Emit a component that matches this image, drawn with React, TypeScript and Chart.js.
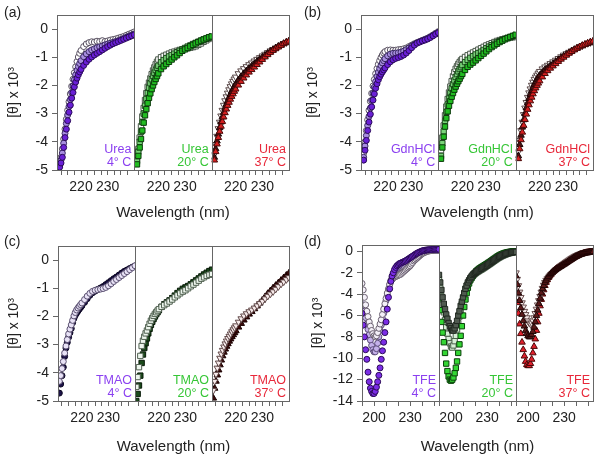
import React, { useEffect, useRef } from 'react';
import { Chart, registerables } from 'chart.js';

Chart.register(...registerables);

const FONT = "'Liberation Sans', Arial, sans-serif";

// ---------- wavelengths (nm) ----------
const wlAB = [212, 212.5, 213, 213.5, 214, 214.5, 215, 215.5, 216, 216.5, 217, 217.5, 218, 218.5, 219, 219.5, 220,
  221, 222, 223, 224, 225, 226, 227, 228, 229, 230, 231, 232, 233, 234, 235, 236, 237, 238, 239, 240];
const wlC = [211.5, 212, 212.5, 213, 213.5, 214, 214.5, 215, 215.5, 216, 216.5, 217, 217.5, 218, 218.5, 219, 219.5, 220,
  221, 222, 223, 224, 225, 226, 227, 228, 229, 230, 231, 232, 233, 234, 235, 236, 237, 238, 239, 240];
const wlD = [190, 191, 192, 193, 194, 195, 196, 197, 198, 199, 200, 201, 202, 203, 204, 205, 206, 207, 208, 209,
  210, 211, 212, 213, 214, 215, 216, 217, 218, 219, 220, 221, 222, 223, 224, 225, 226, 227, 228, 229,
  230, 231, 232, 233, 234, 235, 236, 237, 238, 239, 240, 241, 242, 243, 244, 245, 246, 247, 248, 249,
  250, 251, 252, 253, 254];

// ---------- (a) Urea ----------
const a4s = [-4.9, -4.75, -4.55, -4.2, -3.85, -3.55, -3.25, -2.95, -2.7, -2.45, -2.25, -2.05, -1.88, -1.74, -1.62, -1.52, -1.43,
  -1.29, -1.17, -1.07, -0.99, -0.92, -0.86, -0.8, -0.74, -0.68, -0.62, -0.57, -0.52, -0.48, -0.44, -0.4, -0.36, -0.32, -0.28, -0.24, -0.2];
const a4m = [-4.85, -4.65, -4.4, -4.05, -3.7, -3.35, -3.05, -2.75, -2.5, -2.25, -2.02, -1.8, -1.62, -1.46, -1.33, -1.22, -1.12,
  -0.98, -0.88, -0.8, -0.74, -0.7, -0.66, -0.63, -0.6, -0.56, -0.53, -0.5, -0.47, -0.44, -0.41, -0.37, -0.33, -0.29, -0.25, -0.21, -0.17];
const a4w = [-4.8, -4.55, -4.25, -3.9, -3.55, -3.2, -2.88, -2.58, -2.3, -2.03, -1.78, -1.55, -1.34, -1.15, -0.99, -0.86, -0.76,
  -0.62, -0.53, -0.48, -0.45, -0.46, -0.43, -0.44, -0.41, -0.44, -0.42, -0.39, -0.37, -0.35, -0.32, -0.29, -0.26, -0.22, -0.18, -0.14, -0.1];
const a20s = [-4.8, -4.5, -4.2, -3.9, -3.6, -3.32, -3.06, -2.84, -2.63, -2.44, -2.28, -2.13, -2.0, -1.88, -1.77, -1.67, -1.57,
  -1.42, -1.32, -1.24, -1.16, -1.08, -1.0, -0.93, -0.85, -0.77, -0.72, -0.67, -0.61, -0.56, -0.51, -0.46, -0.41, -0.37, -0.33, -0.29, -0.26];
const a20m = [-4.7, -4.35, -4.0, -3.65, -3.3, -3.0, -2.72, -2.48, -2.27, -2.08, -1.92, -1.78, -1.66, -1.55, -1.45, -1.37, -1.3,
  -1.18, -1.1, -1.03, -0.97, -0.92, -0.87, -0.82, -0.77, -0.72, -0.67, -0.62, -0.58, -0.53, -0.49, -0.45, -0.41, -0.37, -0.34, -0.3, -0.27];
const a20w = [-4.65, -4.25, -3.85, -3.45, -3.1, -2.8, -2.52, -2.27, -2.05, -1.9, -1.75, -1.6, -1.47, -1.36, -1.25, -1.16, -1.08,
  -1.0, -0.95, -0.91, -0.87, -0.83, -0.8, -0.77, -0.74, -0.72, -0.7, -0.68, -0.66, -0.64, -0.61, -0.56, -0.51, -0.45, -0.4, -0.35, -0.31];
const a37s = [-4.65, -4.35, -4.08, -3.85, -3.63, -3.45, -3.28, -3.12, -2.97, -2.84, -2.71, -2.6, -2.49, -2.39, -2.3, -2.21, -2.13,
  -1.99, -1.86, -1.74, -1.63, -1.53, -1.44, -1.35, -1.26, -1.17, -1.08, -0.99, -0.91, -0.83, -0.76, -0.7, -0.64, -0.58, -0.52, -0.47, -0.43];
const a37d = [-4.55, -4.25, -3.97, -3.73, -3.5, -3.3, -3.12, -2.96, -2.81, -2.67, -2.55, -2.43, -2.32, -2.22, -2.13, -2.04, -1.96,
  -1.81, -1.69, -1.58, -1.48, -1.39, -1.31, -1.23, -1.15, -1.07, -1.0, -0.93, -0.86, -0.79, -0.73, -0.67, -0.61, -0.56, -0.51, -0.46, -0.42];
const a37w = [-4.45, -4.1, -3.8, -3.53, -3.3, -3.08, -2.88, -2.7, -2.54, -2.4, -2.27, -2.15, -2.04, -1.94, -1.85, -1.77, -1.7,
  -1.58, -1.48, -1.4, -1.33, -1.26, -1.2, -1.13, -1.07, -1.01, -0.95, -0.89, -0.83, -0.77, -0.72, -0.67, -0.62, -0.57, -0.52, -0.48, -0.44];

// ---------- (b) GdnHCl ----------
const b4s = [-4.65, -4.3, -3.95, -3.6, -3.3, -3.02, -2.76, -2.52, -2.3, -2.1, -1.94, -1.8, -1.69, -1.6, -1.52, -1.45, -1.38,
  -1.26, -1.16, -1.09, -1.04, -1.01, -0.97, -0.92, -0.85, -0.76, -0.66, -0.57, -0.5, -0.46, -0.42, -0.39, -0.35, -0.3, -0.24, -0.18, -0.13];
const b4m = [-4.55, -4.15, -3.78, -3.42, -3.1, -2.8, -2.53, -2.28, -2.06, -1.86, -1.68, -1.53, -1.4, -1.29, -1.2, -1.12, -1.05,
  -0.95, -0.89, -0.86, -0.85, -0.84, -0.82, -0.78, -0.73, -0.67, -0.6, -0.54, -0.49, -0.45, -0.41, -0.37, -0.33, -0.28, -0.22, -0.16, -0.11];
const b4w = [-4.4, -4.0, -3.6, -3.22, -2.88, -2.56, -2.28, -2.02, -1.79, -1.58, -1.4, -1.25, -1.12, -1.01, -0.92, -0.85, -0.8,
  -0.75, -0.74, -0.75, -0.75, -0.73, -0.72, -0.7, -0.67, -0.62, -0.57, -0.52, -0.48, -0.44, -0.4, -0.36, -0.32, -0.27, -0.21, -0.15, -0.09];
const b20s = [-4.6, -4.2, -3.82, -3.46, -3.16, -2.92, -2.72, -2.55, -2.4, -2.27, -2.15, -2.04, -1.94, -1.85, -1.76, -1.67, -1.59,
  -1.45, -1.34, -1.26, -1.19, -1.11, -1.03, -0.95, -0.87, -0.79, -0.71, -0.64, -0.58, -0.52, -0.46, -0.41, -0.36, -0.32, -0.28, -0.24, -0.2];
const b20m = [-4.5, -4.05, -3.63, -3.26, -2.94, -2.68, -2.46, -2.27, -2.1, -1.95, -1.82, -1.7, -1.6, -1.5, -1.42, -1.35, -1.28,
  -1.17, -1.09, -1.02, -0.96, -0.9, -0.85, -0.8, -0.74, -0.68, -0.62, -0.57, -0.52, -0.47, -0.43, -0.39, -0.35, -0.31, -0.28, -0.25, -0.22];
const b20w = [-4.3, -3.85, -3.42, -3.06, -2.75, -2.48, -2.25, -2.04, -1.85, -1.68, -1.53, -1.41, -1.32, -1.24, -1.17, -1.11, -1.06,
  -0.99, -0.93, -0.88, -0.83, -0.78, -0.73, -0.68, -0.63, -0.58, -0.54, -0.5, -0.46, -0.42, -0.39, -0.36, -0.34, -0.32, -0.3, -0.29, -0.28];
const b37s = [-4.6, -4.25, -3.93, -3.66, -3.42, -3.21, -3.02, -2.85, -2.69, -2.55, -2.42, -2.3, -2.19, -2.09, -2.0, -1.92, -1.84,
  -1.7, -1.58, -1.48, -1.39, -1.31, -1.23, -1.15, -1.07, -1.0, -0.93, -0.86, -0.8, -0.74, -0.68, -0.63, -0.58, -0.54, -0.5, -0.46, -0.43];
const b37d = [-4.5, -4.1, -3.77, -3.48, -3.22, -3.0, -2.8, -2.62, -2.46, -2.32, -2.19, -2.07, -1.96, -1.87, -1.78, -1.71, -1.64,
  -1.53, -1.44, -1.37, -1.3, -1.23, -1.16, -1.09, -1.02, -0.96, -0.9, -0.84, -0.78, -0.73, -0.68, -0.63, -0.59, -0.55, -0.51, -0.47, -0.44];
const b37w = [-4.35, -3.95, -3.6, -3.3, -3.03, -2.8, -2.6, -2.42, -2.26, -2.12, -1.99, -1.88, -1.78, -1.7, -1.63, -1.56, -1.5,
  -1.41, -1.34, -1.28, -1.22, -1.16, -1.1, -1.04, -0.98, -0.92, -0.87, -0.82, -0.77, -0.72, -0.67, -0.63, -0.59, -0.55, -0.51, -0.48, -0.45];

// ---------- (c) TMAO ----------
const c4d = [-4.72, -4.4, -4.1, -3.8, -3.42, -3.12, -2.92, -2.74, -2.58, -2.43, -2.22, -2.07, -1.96, -1.88, -1.81, -1.74, -1.68, -1.62,
  -1.5, -1.37, -1.25, -1.16, -1.1, -1.04, -0.99, -0.94, -0.87, -0.8, -0.73, -0.66, -0.6, -0.53, -0.46, -0.4, -0.35, -0.3, -0.25, -0.21];
const c4w = [-4.3, -4.1, -3.85, -3.6, -3.3, -3.05, -2.82, -2.62, -2.45, -2.3, -2.14, -1.98, -1.86, -1.77, -1.7, -1.64, -1.58, -1.52,
  -1.4, -1.28, -1.18, -1.11, -1.07, -1.05, -1.03, -1.01, -0.97, -0.91, -0.84, -0.76, -0.69, -0.62, -0.55, -0.48, -0.41, -0.34, -0.27, -0.2];
const c20d = [-5.0, -4.75, -4.45, -4.1, -3.65, -3.35, -3.12, -2.95, -2.78, -2.6, -2.44, -2.3, -2.19, -2.09, -2.0, -1.92, -1.85, -1.78,
  -1.66, -1.57, -1.5, -1.43, -1.35, -1.26, -1.17, -1.09, -1.02, -0.97, -0.92, -0.86, -0.79, -0.72, -0.65, -0.58, -0.51, -0.45, -0.39, -0.34];
const c20w = [-4.5, -4.15, -3.8, -3.4, -3.05, -2.86, -2.72, -2.6, -2.5, -2.38, -2.26, -2.15, -2.06, -1.98, -1.91, -1.85, -1.79, -1.74,
  -1.66, -1.6, -1.54, -1.47, -1.4, -1.32, -1.25, -1.18, -1.12, -1.07, -1.0, -0.93, -0.87, -0.8, -0.73, -0.66, -0.61, -0.56, -0.52, -0.49];
const c37d = [-4.9, -4.55, -4.3, -4.08, -3.9, -3.72, -3.55, -3.4, -3.27, -3.16, -3.06, -2.97, -2.88, -2.8, -2.72, -2.65, -2.58, -2.51,
  -2.38, -2.25, -2.13, -2.02, -1.92, -1.83, -1.73, -1.63, -1.53, -1.42, -1.3, -1.19, -1.09, -0.99, -0.9, -0.81, -0.72, -0.63, -0.54, -0.46];
const c37w = [-4.62, -4.3, -4.05, -3.83, -3.65, -3.48, -3.33, -3.2, -3.08, -2.97, -2.87, -2.78, -2.7, -2.62, -2.54, -2.47, -2.4, -2.33,
  -2.2, -2.08, -1.98, -1.9, -1.83, -1.77, -1.7, -1.62, -1.54, -1.46, -1.37, -1.28, -1.2, -1.12, -1.03, -0.94, -0.85, -0.77, -0.69, -0.62];

// ---------- (d) TFE ----------
const d4s = [-5.8, -6.9, -8.0, -9.2, -10.1, -11.3, -12.2, -12.8, -13.1, -13.3,
  -13.3, -13.1, -12.7, -12.2, -11.6, -10.9, -10.1, -9.3, -8.5, -7.6,
  -6.6, -5.4, -4.3, -3.5, -2.8, -2.3, -2.0, -1.7, -1.5, -1.35,
  -1.25, -1.15, -1.1, -1.05, -1.0, -0.95, -0.9, -0.82, -0.75, -0.68,
  -0.6, -0.52, -0.45, -0.38, -0.3, -0.22, -0.16, -0.1, -0.05, 0,
  0.05, 0.08, 0.1, 0.12, 0.14, 0.15, 0.16, 0.17, 0.18, 0.19,
  0.2, 0.2, 0.2, 0.2, 0.2];
const d4m = [-4.3, -5.0, -5.6, -6.2, -6.8, -7.3, -7.8, -8.3, -8.8, -9.2,
  -9.4, -9.4, -9.1, -8.6, -8.0, -7.4, -6.9, -6.3, -5.8, -5.2,
  -4.6, -4.1, -3.6, -3.1, -2.7, -2.4, -2.1, -1.9, -1.8, -1.7,
  -1.65, -1.6, -1.55, -1.5, -1.45, -1.4, -1.3, -1.2, -1.1, -1.0,
  -0.9, -0.8, -0.7, -0.6, -0.5, -0.42, -0.35, -0.28, -0.22, -0.16,
  -0.1, -0.05, 0, 0.03, 0.05, 0.07, 0.08, 0.1, 0.1, 0.1,
  0.1, 0.1, 0.1, 0.1, 0.1];
const d4w = [-3.0, -3.6, -4.3, -5.0, -5.6, -6.1, -6.6, -7.0, -7.4, -7.7,
  -7.9, -8.0, -7.9, -7.6, -7.2, -6.8, -6.4, -5.9, -5.4, -4.9,
  -4.4, -3.9, -3.5, -3.1, -2.8, -2.6, -2.5, -2.4, -2.35, -2.3,
  -2.25, -2.2, -2.15, -2.05, -1.95, -1.85, -1.75, -1.65, -1.55, -1.45,
  -1.35, -1.2, -1.05, -0.9, -0.8, -0.7, -0.6, -0.5, -0.4, -0.3,
  -0.22, -0.15, -0.1, -0.05, 0, 0.03, 0.05, 0.07, 0.1, 0.1,
  0.1, 0.12, 0.12, 0.12, 0.12];
const d20s = [-4.4, -5.5, -6.6, -7.6, -8.5, -9.5, -10.5, -11.2, -11.7, -12.0,
  -12.1, -12.0, -11.8, -11.4, -10.9, -10.3, -9.5, -8.7, -7.9, -7.0,
  -6.0, -5.2, -4.5, -3.9, -3.4, -3.0, -2.7, -2.5, -2.3, -2.1,
  -2.0, -1.85, -1.75, -1.65, -1.58, -1.5, -1.43, -1.36, -1.29, -1.22,
  -1.15, -1.07, -1.0, -0.92, -0.84, -0.76, -0.68, -0.6, -0.52, -0.45,
  -0.38, -0.32, -0.27, -0.22, -0.18, -0.14, -0.11, -0.08, -0.06, -0.04,
  -0.02, 0, 0, 0, 0];
const d20m = [-2.6, -3.4, -4.2, -5.0, -5.7, -6.4, -7.1, -7.7, -8.2, -8.6,
  -8.9, -9.0, -8.8, -8.4, -7.9, -7.3, -6.7, -6.1, -5.5, -4.9,
  -4.4, -3.9, -3.5, -3.2, -3.0, -2.8, -2.6, -2.45, -2.3, -2.2,
  -2.1, -2.0, -1.92, -1.85, -1.78, -1.72, -1.65, -1.58, -1.5, -1.42,
  -1.35, -1.27, -1.2, -1.12, -1.04, -0.96, -0.88, -0.8, -0.72, -0.65,
  -0.58, -0.52, -0.46, -0.4, -0.35, -0.3, -0.26, -0.22, -0.18, -0.15,
  -0.12, -0.1, -0.08, -0.06, -0.05];
const d20d = [-2.2, -2.9, -3.6, -4.3, -4.9, -5.4, -5.9, -6.3, -6.7, -7.0,
  -7.2, -7.4, -7.4, -7.2, -6.9, -6.5, -6.0, -5.6, -5.1, -4.7,
  -4.3, -3.9, -3.5, -3.2, -2.9, -2.7, -2.5, -2.35, -2.2, -2.1,
  -2.0, -1.92, -1.85, -1.78, -1.7, -1.63, -1.56, -1.5, -1.43, -1.36,
  -1.29, -1.21, -1.13, -1.05, -0.97, -0.89, -0.81, -0.73, -0.65, -0.58,
  -0.51, -0.45, -0.39, -0.34, -0.29, -0.25, -0.21, -0.18, -0.15, -0.12,
  -0.1, -0.08, -0.06, -0.05, -0.04];
const d37s = [-3.8, -4.8, -5.8, -6.8, -7.7, -8.5, -9.2, -9.8, -10.3, -10.6,
  -10.7, -10.7, -10.5, -10.1, -9.5, -8.9, -8.2, -7.4, -6.6, -5.8,
  -5.1, -4.5, -4.0, -3.6, -3.2, -2.9, -2.65, -2.45, -2.3, -2.15,
  -2.0, -1.88, -1.77, -1.67, -1.58, -1.5, -1.42, -1.35, -1.28, -1.21,
  -1.14, -1.07, -1.0, -0.93, -0.86, -0.79, -0.72, -0.65, -0.58, -0.52,
  -0.46, -0.4, -0.35, -0.3, -0.26, -0.22, -0.18, -0.15, -0.12, -0.1,
  -0.08, -0.06, -0.05, -0.04, -0.03];
const d37d = [-2.3, -3.1, -3.9, -4.6, -5.3, -5.9, -6.5, -7.0, -7.4, -7.7,
  -7.9, -8.0, -8.0, -7.8, -7.5, -7.1, -6.6, -6.0, -5.5, -4.9,
  -4.4, -3.9, -3.5, -3.2, -2.9, -2.7, -2.5, -2.35, -2.2, -2.08,
  -1.97, -1.87, -1.78, -1.7, -1.62, -1.55, -1.48, -1.41, -1.34, -1.27,
  -1.2, -1.12, -1.05, -0.97, -0.9, -0.82, -0.75, -0.67, -0.6, -0.53,
  -0.47, -0.41, -0.36, -0.31, -0.27, -0.23, -0.2, -0.17, -0.14, -0.12,
  -0.1, -0.08, -0.06, -0.05, -0.04];
const d37w = [-2.0, -2.6, -3.2, -3.8, -4.3, -4.8, -5.2, -5.6, -5.9, -6.2,
  -6.5, -6.7, -6.8, -6.7, -6.5, -6.2, -5.8, -5.4, -5.0, -4.6,
  -4.2, -3.8, -3.45, -3.15, -2.9, -2.7, -2.55, -2.4, -2.28, -2.16,
  -2.05, -1.95, -1.85, -1.75, -1.66, -1.57, -1.48, -1.39, -1.3, -1.21,
  -1.12, -1.04, -0.96, -0.88, -0.8, -0.72, -0.65, -0.58, -0.51, -0.45,
  -0.39, -0.34, -0.29, -0.25, -0.21, -0.17, -0.14, -0.11, -0.08, -0.06,
  -0.04, -0.02, 0, 0.02, 0.03];

// ---------- ticks & labels ----------
const xTicksNarrow = [212.5, 215, 217.5, 220, 222.5, 225, 227.5, 230, 232.5, 235, 237.5];
const xLabelsNarrow = [220, 230];
const xTicksWide = [190, 200, 210, 220, 230, 240, 250];
const xLabelsWide = [200, 230];
const yTicksSmall = [0, -1, -2, -3, -4, -5];
const yTicksLarge = [0, -2, -4, -6, -8, -10, -12, -14];

const panelLetters = ['(a)', '(b)', '(c)', '(d)'];
const reagents = ['Urea', 'GdnHCl', 'TMAO', 'TFE'];
const temps = ['4° C', '20° C', '37° C'];
const tempColors = ['#8b40f0', '#36c636', '#e8283a'];
const yTitle = '[θ] x 10³';
const xTitle = 'Wavelength (nm)';

// ---------- styles ----------
const markerStyles = ['circle', 'rect', 'triangle'];
const markerRadius = [3, 3.8, 3.8];
const sty = {
  pW: { fill: '#ffffff', edge: '#5a5262' }, pM: { fill: '#a88ee0', edge: '#3a2a62' }, pS: { fill: '#6a20d6', edge: '#2a0a58' },
  gW: { fill: '#ffffff', edge: '#4a584a' }, gM: { fill: '#7ad47a', edge: '#1e4a1e' }, gS: { fill: '#22bc22', edge: '#0a3a0a' },
  rW: { fill: '#ffffff', edge: '#5a4848', rot: 180 }, rD: { fill: '#4a1414', edge: '#1a0505' }, rS: { fill: '#d42020', edge: '#4a0808' },
  cP: { fill: '#1c1248', edge: '#0a0520' }, cPW: { fill: '#e8e2f6', edge: '#5a5070' },
  cG: { fill: '#1a4a1a', edge: '#061806' }, cGW: { fill: '#eef6ee', edge: '#506050' },
  cR: { fill: '#3a0a0a', edge: '#1a0000' }, cRW: { fill: '#f6eaea', edge: '#604848', rot: 180 },
  dPS: { fill: '#7b2de6', edge: '#2a0a55' }, dPM: { fill: '#c4b0ea', edge: '#5a4a78' }, dPW: { fill: '#f4f0f8', edge: '#6a6070' },
  dGS: { fill: '#33d633', edge: '#0a400a' }, dGM: { fill: '#d8f0d8', edge: '#4a604a' }, dGD: { fill: '#505a50', edge: '#202820' },
  dRS: { fill: '#e0202c', edge: '#4a0808' }, dRD: { fill: '#5a1a1a', edge: '#200505' }, dRW: { fill: '#f4e8e8', edge: '#6a5050', rot: 180 },
};

// first series in each list is drawn on top
const panels = [
  {
    subs: [
      { x: wlAB, series: [{ y: a4s, ...sty.pS }, { y: a4m, ...sty.pM }, { y: a4w, ...sty.pW }] },
      { x: wlAB, series: [{ y: a20s, ...sty.gS }, { y: a20m, ...sty.gM }, { y: a20w, ...sty.gW }] },
      { x: wlAB, series: [{ y: a37s, ...sty.rS }, { y: a37d, ...sty.rD }, { y: a37w, ...sty.rW }] },
    ],
    xMin: 211, xMax: 240, xTicks: xTicksNarrow, xLabels: xLabelsNarrow, yMin: -5, yMax: 0.5, yTicks: yTicksSmall,
    geo: { left: 57, right: 289, top: 15, bottom: 170, yTitlePad: 6, titleY: 213 },
  },
  {
    subs: [
      { x: wlAB, series: [{ y: b4s, ...sty.pS }, { y: b4m, ...sty.pM }, { y: b4w, ...sty.pW }] },
      { x: wlAB, series: [{ y: b20s, ...sty.gS }, { y: b20m, ...sty.gM }, { y: b20w, ...sty.gW }] },
      { x: wlAB, series: [{ y: b37s, ...sty.rS }, { y: b37d, ...sty.rD }, { y: b37w, ...sty.rW }] },
    ],
    xMin: 211, xMax: 240, xTicks: xTicksNarrow, xLabels: xLabelsNarrow, yMin: -5, yMax: 0.5, yTicks: yTicksSmall,
    geo: { left: 61, right: 293, top: 15, bottom: 170, yTitlePad: 5, titleY: 213 },
  },
  {
    subs: [
      { x: wlC, series: [{ y: c4w, ...sty.cPW }, { y: c4d, ...sty.cP }] },
      { x: wlC, series: [{ y: c20w, ...sty.cGW }, { y: c20d, ...sty.cG }] },
      { x: wlC, series: [{ y: c37w, ...sty.cRW }, { y: c37d, ...sty.cR }] },
    ],
    xMin: 211, xMax: 240, xTicks: xTicksNarrow, xLabels: xLabelsNarrow, yMin: -5, yMax: 0.5, yTicks: yTicksSmall,
    geo: { left: 58, right: 289, top: 17, bottom: 172, yTitlePad: 6, titleY: 218 },
  },
  {
    subs: [
      { x: wlD, series: [{ y: d4s, ...sty.dPS }, { y: d4w, ...sty.dPW }, { y: d4m, ...sty.dPM }] },
      { x: wlD, series: [{ y: d20d, ...sty.dGD }, { y: d20s, ...sty.dGS }, { y: d20m, ...sty.dGM }] },
      { x: wlD, series: [{ y: d37d, ...sty.dRD }, { y: d37w, ...sty.dRW }, { y: d37s, ...sty.dRS }] },
    ],
    xMin: 190, xMax: 254, xTicks: xTicksWide, xLabels: xLabelsWide, yMin: -14, yMax: 0.6, yTicks: yTicksLarge,
    geo: { left: 62, right: 293, top: 16, bottom: 172, yTitlePad: 10, titleY: 218 },
  },
];

const W = 300;
const H = 229;
const AXIS = '#666666';
const TEXT = '#222222';

function PanelChart({ index, left, top }: { index: number; left: number; top: number }) {
  const ref = useRef<HTMLCanvasElement | null>(null);
  useEffect(() => {
    const p = panels[index];
    const g = p.geo;
    const datasets: any[] = [];
    p.subs.forEach((sub, i) => {
      sub.series.forEach((s: any) => {
        datasets.push({
          xAxisID: 'x' + (i + 1),
          yAxisID: 'y',
          data: sub.x.map((x, k) => ({ x, y: s.y[k] })),
          showLine: false,
          pointStyle: markerStyles[i],
          pointRadius: markerRadius[i],
          pointRotation: s.rot || 0,
          pointBackgroundColor: s.fill,
          pointBorderColor: s.edge,
          pointBorderWidth: 1,
          backgroundColor: s.fill,
          borderColor: s.edge,
        });
      });
    });

    const scales: any = {
      y: {
        type: 'linear',
        position: 'left',
        min: p.yMin,
        max: p.yMax,
        afterBuildTicks: (s: any) => { s.ticks = p.yTicks.map((v) => ({ value: v })); },
        afterFit: (s: any) => { s.width = g.left; },
        ticks: { font: { family: FONT, size: 14 }, color: TEXT, padding: 4, callback: (v: any) => String(v) },
        grid: { drawOnChartArea: false, drawTicks: true, tickLength: 5, color: AXIS },
        border: { display: true, color: AXIS },
        title: { display: true, text: yTitle, font: { family: FONT, size: 14 }, color: TEXT, padding: { top: g.yTitlePad, bottom: 0 } },
      },
    };
    [0, 1, 2].forEach((i) => {
      scales['x' + (i + 1)] = {
        type: 'linear',
        position: 'bottom',
        stack: 'xs',
        stackWeight: 1,
        min: p.xMin,
        max: p.xMax,
        afterBuildTicks: (s: any) => { s.ticks = p.xTicks.map((v) => ({ value: v })); },
        afterFit: (s: any) => { s.height = H - g.bottom; },
        ticks: {
          font: { family: FONT, size: 14 }, color: TEXT, padding: 4, maxRotation: 0, minRotation: 0, autoSkip: false,
          callback: (v: any) => (p.xLabels.includes(v) ? String(v) : ''),
        },
        grid: { drawOnChartArea: false, drawTicks: true, tickLength: 5, color: AXIS },
        border: { display: true, color: AXIS },
        title: { display: false },
      };
    });

    const overlay = {
      id: 'overlay' + index,
      afterDatasetsDraw(chart: any) {
        const { ctx, chartArea } = chart;
        ctx.save();
        ctx.strokeStyle = AXIS;
        ctx.lineWidth = 1;
        ['x1', 'x2', 'x3'].forEach((id) => {
          const s = chart.scales[id];
          ctx.strokeRect(Math.round(s.left) + 0.5, Math.round(chartArea.top) + 0.5, Math.round(s.right) - Math.round(s.left), Math.round(chartArea.bottom) - Math.round(chartArea.top));
        });
        ctx.font = `12.5px ${FONT}`;
        ctx.textAlign = 'right';
        ctx.textBaseline = 'alphabetic';
        ['x1', 'x2', 'x3'].forEach((id, i) => {
          const s = chart.scales[id];
          ctx.fillStyle = tempColors[i];
          ctx.fillText(reagents[index], s.right - 3, chartArea.bottom - 17);
          ctx.fillText(temps[i], s.right - 3, chartArea.bottom - 4);
        });
        ctx.fillStyle = TEXT;
        ctx.font = `15px ${FONT}`;
        ctx.textAlign = 'center';
        ctx.textBaseline = 'middle';
        ctx.fillText(xTitle, (chartArea.left + chartArea.right) / 2, g.titleY);
        ctx.textAlign = 'left';
        ctx.textBaseline = 'alphabetic';
        ctx.font = `14px ${FONT}`;
        ctx.fillText(panelLetters[index], 4, 17);
        ctx.restore();
      },
    };

    const chart = new Chart(ref.current as HTMLCanvasElement, {
      type: 'scatter',
      data: { datasets },
      options: {
        animation: false,
        responsive: false,
        maintainAspectRatio: false,
        devicePixelRatio: 1,
        layout: { autoPadding: false, padding: { left: 0, right: W - g.right, top: g.top, bottom: 0 } },
        plugins: { legend: { display: false }, tooltip: { enabled: false }, title: { display: false } },
        scales,
        events: [],
      } as any,
      plugins: [overlay],
    });
    return () => chart.destroy();
  }, [index]);
  return (
    <canvas
      ref={ref}
      width={W}
      height={H}
      style={{ position: 'absolute', left, top, width: W, height: H }}
    />
  );
}

export default function App() {
  return (
    <div style={{ position: 'fixed', left: 0, top: 0, width: 600, height: 458, background: '#ffffff', overflow: 'hidden' }}>
      <PanelChart index={0} left={0} top={0} />
      <PanelChart index={1} left={300} top={0} />
      <PanelChart index={2} left={0} top={229} />
      <PanelChart index={3} left={300} top={229} />
    </div>
  );
}
